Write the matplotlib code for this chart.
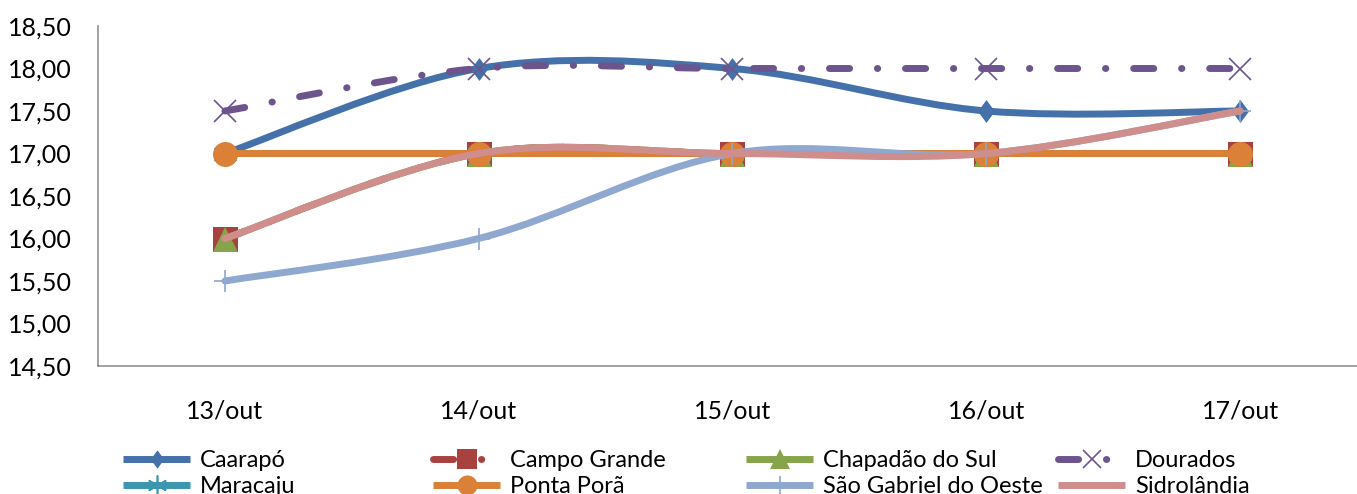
import matplotlib as mpl
from matplotlib import pyplot as plt
from matplotlib.path import Path
from matplotlib.patches import PathPatch
from matplotlib.lines import Line2D
from matplotlib.ticker import FuncFormatter

plt.rcParams['font.family'] = ['Lato', 'DejaVu Sans']

days = ['13/out', '14/out', '15/out', '16/out', '17/out']

caarapo = [17.0, 18.0, 18.0, 17.5, 17.5]
campo_grande = [16.0, 17.0, 17.0, 17.0, 17.0]
chapadao = [16.0, 17.0, 17.0, 17.0, 17.0]
dourados = [17.5, 18.0, 18.0, 18.0, 18.0]
maracaju = [17.0, 17.0, 17.0, 17.0, 17.0]
ponta_pora = [17.0, 17.0, 17.0, 17.0, 17.0]
sao_gabriel = [15.5, 16.0, 17.0, 17.0, 17.5]
sidrolandia = [16.0, 17.0, 17.0, 17.0, 17.5]

names = ['Caarapó', 'Campo Grande', 'Chapadão do Sul', 'Dourados',
         'Maracaju', 'Ponta Porã', 'São Gabriel do Oeste', 'Sidrolândia']
series = [caarapo, campo_grande, chapadao, dourados,
          maracaju, ponta_pora, sao_gabriel, sidrolandia]

# estilo de cada serie: cor, marcador, tamanho, tracejado
diamond = [(0, 1), (0.74, 0), (0, -1), (-0.74, 0), (0, 1)]
dashdot = (0, (2.9, 4.0, 0.05, 4.0))
estilos = [
    dict(color='#4471A9', marker=diamond, ms=16.5, ls='-'),
    dict(color='#A8423F', marker='s', ms=18, ls=dashdot),
    dict(color='#86A44A', marker='^', ms=18, ls='-'),
    dict(color='#6E548D', marker='x', ms=16, ls=dashdot),
    dict(color='#3C96AF', marker=(6, 2, 0), ms=18, ls='-'),
    dict(color='#DA8137', marker='o', ms=18, ls='-'),
    dict(color='#8FA8CF', marker='+', ms=16, ls='-'),
    dict(color='#CF8D8C', marker=None, ms=0, ls='-'),
]
lw = 5
finos = ('x', '+', (6, 2, 0))


def curva_suave(xs, ys):
    # suavizacao estilo Excel (Bezier tipo Catmull-Rom)
    pts = list(zip(xs, ys))
    verts = [pts[0]]
    codes = [Path.MOVETO]
    n = len(pts)
    for i in range(n - 1):
        p0 = pts[i - 1] if i > 0 else pts[i]
        p1 = pts[i]
        p2 = pts[i + 1]
        p3 = pts[i + 2] if i + 2 < n else pts[i + 1]
        c1 = (p1[0] + (p2[0] - p0[0]) / 6, p1[1] + (p2[1] - p0[1]) / 6)
        c2 = (p2[0] - (p3[0] - p1[0]) / 6, p2[1] - (p3[1] - p1[1]) / 6)
        verts += [c1, c2, p2]
        codes += [Path.CURVE4] * 3
    return Path(verts, codes)


fig = plt.figure(figsize=(13.57, 4.94), dpi=100)
ax = fig.add_axes([98 / 1357, 1 - 366 / 494, (1367 - 98) / 1357, (366 - 26) / 494])

x = list(range(len(days)))
for i, (nome, ys, st) in enumerate(zip(names, series, estilos)):
    z = 2 + i
    patch = PathPatch(curva_suave(x, ys), fill=False, edgecolor=st['color'],
                      linewidth=lw, linestyle=st['ls'], zorder=z)
    patch.set_capstyle('round')
    patch.set_joinstyle('round')
    ax.add_patch(patch)
    if st['marker'] is not None:
        mew = 1.2 if st['marker'] in finos else 0
        ax.plot(x, ys, linestyle='none', marker=st['marker'], ms=st['ms'],
                color=st['color'], mew=mew, zorder=z + 0.5)

ax.set_xlim(-0.5, 4.5)
ax.set_ylim(14.5, 18.5)
ax.set_xticks(x)
ax.set_xticklabels(days)
ax.set_yticks([14.5 + 0.5 * k for k in range(9)])
ax.yaxis.set_major_formatter(FuncFormatter(lambda v, p: f'{v:.2f}'.replace('.', ',')))
ax.tick_params(axis='both', length=0, labelsize=18)
ax.tick_params(axis='x', pad=24)
ax.tick_params(axis='y', pad=19)
for s in ['top', 'right']:
    ax.spines[s].set_visible(False)
for s in ['left', 'bottom']:
    ax.spines[s].set_color('#888888')
    ax.spines[s].set_linewidth(1.1)

# legenda em 4 colunas
handles = []
for st in estilos:
    mew = 1.2 if st['marker'] in finos else 0
    handles.append(Line2D([], [], color=st['color'], lw=lw, ls=st['ls'],
                          marker=st['marker'], ms=st['ms'] * 0.8, mew=mew,
                          solid_capstyle='butt', dash_capstyle='round'))

col_x = [123, 433, 746, 1058]
for c in range(4):
    leg = fig.legend(handles=[handles[c], handles[c + 4]],
                     labels=[names[c], names[c + 4]],
                     loc='upper left', bbox_to_anchor=(col_x[c] / 1357, 1 - 450 / 494),
                     frameon=False, fontsize=17, borderpad=0, borderaxespad=0,
                     handlelength=2.84, handletextpad=0.42, labelspacing=0.23,
                     numpoints=1)

fig.savefig('out.png', dpi=100)
